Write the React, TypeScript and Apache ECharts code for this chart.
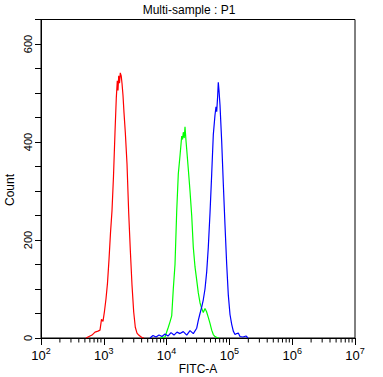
import React, { useEffect, useRef } from 'react';
import * as echarts from 'echarts';

const titleText = 'Multi-sample : P1';
const xAxisName = 'FITC-A';
const yAxisName = 'Count';

const redFITC = [521, 581, 649, 724, 808, 870, 919, 971, 1026, 1084, 1145, 1210, 1279, 1351, 1427, 1508, 1581, 1641, 1683, 1727, 1778, 1831, 1893, 1949, 2022, 2097, 2200, 2342, 2492, 2642, 2812, 2993, 3174, 3378, 3595, 3840, 4058, 4367];
const redCount = [0, 3, 6, 12, 14, 16, 38, 34, 55, 80, 112, 160, 215, 260, 330, 420, 490, 525, 505, 535, 520, 541, 535, 520, 495, 460, 420, 355, 255, 180, 108, 53, 22, 10, 6, 3, 1, 0];

const greenFITC = [7852, 9430, 10643, 11328, 12058, 12783, 13608, 14483, 15357, 16345, 17398, 17918, 18451, 19073, 19640, 20374, 20905, 22156, 23587, 25102, 26619, 28336, 30162, 31977, 34024, 36218, 38403, 40860, 43181, 46132, 49112, 52270, 55428, 58968, 63472, 68312];
const greenCount = [0, 2, 22, 33, 45, 100, 150, 258, 335, 372, 412, 405, 420, 408, 431, 402, 385, 345, 300, 250, 185, 145, 118, 92, 72, 60, 52, 60, 54, 42, 30, 16, 7, 3, 1, 0];

const blueFITC = [5441, 6073, 6780, 7568, 8450, 9430, 10527, 11752, 13117, 14641, 16345, 18451, 20905, 23587, 26619, 30162, 31977, 34024, 36218, 38403, 40860, 43492, 46132, 49112, 52270, 55428, 58968, 61170, 62771, 65113, 66560, 68312, 70870, 75430, 79980, 85110, 90580, 96050, 102230, 108800, 115380, 122800, 130680, 138580, 147500, 164700, 183800, 197800];
const blueCount = [0, 5, 2, 6, 3, 8, 4, 11, 6, 12, 9, 13, 6, 15, 9, 20, 36, 50, 63, 78, 100, 135, 185, 255, 335, 415, 455, 472, 462, 495, 522, 505, 475, 400, 315, 230, 150, 88, 48, 28, 14, 7, 9, 10, 3, 2, 4, 0];

const xMin = 100;
const xMax = 10000000;
const yMin = 0;
const yMax = 650;
const yTickInterval = 50;
const yLabelEvery = 200;

function pairs(xs: number[], ys: number[]) {
  return xs.map((x, i) => [x, ys[i]]);
}

function minorTicks(): number[][] {
  const out: number[][] = [];
  for (let d = xMin; d < xMax; d *= 10) {
    for (let m = 2; m <= 9; m++) out.push([d * m, 0]);
  }
  return out;
}

export default function App() {
  const ref = useRef<HTMLDivElement>(null);
  useEffect(() => {
    if (!ref.current) return;
    const chart = echarts.init(ref.current, null, { renderer: 'svg' });
    const font = 'Liberation Sans, Arial, sans-serif';
    const lineSeries = (name: string, color: string, data: number[][]) => ({
      name,
      type: 'line',
      data,
      showSymbol: false,
      symbol: 'none',
      lineStyle: { color, width: 1.2 },
      itemStyle: { color },
      silent: true,
      z: 3,
    });
    chart.setOption({
      animation: false,
      backgroundColor: '#ffffff',
      textStyle: { fontFamily: font },
      grid: {
        left: 41,
        right: 28,
        top: 19.5,
        bottom: 39,
        containLabel: false,
        outerBoundsMode: 'none',
        show: true,
        borderColor: '#000',
        borderWidth: 1,
        backgroundColor: 'transparent',
      },
      xAxis: {
        type: 'log',
        logBase: 10,
        min: xMin,
        max: xMax,
        axisLine: { show: true, lineStyle: { color: '#000', width: 1 } },
        axisTick: { show: true, length: 7, inside: false, lineStyle: { color: '#000' } },
        splitLine: { show: false },
        axisLabel: {
          margin: 8,
          color: '#000',
          fontFamily: font,
          formatter: (v: number) => {
            const e = Math.round(Math.log10(v));
            return '{b|10}{s|' + e + '}';
          },
          rich: {
            b: { fontSize: 13, color: '#000', fontFamily: font, lineHeight: 16, verticalAlign: 'bottom' },
            s: { fontSize: 9, color: '#000', fontFamily: font, lineHeight: 16, verticalAlign: 'top', padding: [0, 0, 6, 0] },
          },
        },
      },
      yAxis: {
        type: 'value',
        min: yMin,
        max: yMax,
        interval: yTickInterval,
        axisLine: { show: true, lineStyle: { color: '#000', width: 1 } },
        axisTick: { show: true, length: 6, lineStyle: { color: '#000' } },
        splitLine: { show: false },
        axisLabel: {
          rotate: 90,
          margin: 8,
          color: '#000',
          fontSize: 11,
          fontFamily: font,
          showMaxLabel: true,
          formatter: (v: number) => (v % yLabelEvery === 0 ? String(v) : ''),
        },
      },
      graphic: [
        {
          type: 'text',
          x: 189,
          y: 10,
          style: {
            text: titleText,
            fill: '#000',
            font: '12px ' + font,
            textAlign: 'center',
            textVerticalAlign: 'middle',
          },
        },
        {
          type: 'text',
          x: 198,
          y: 369,
          style: {
            text: xAxisName,
            fill: '#000',
            font: '12px ' + font,
            textAlign: 'center',
            textVerticalAlign: 'middle',
          },
        },
        {
          type: 'text',
          x: 10,
          y: 190,
          rotation: Math.PI / 2,
          style: {
            text: yAxisName,
            fill: '#000',
            font: '12px ' + font,
            textAlign: 'center',
            textVerticalAlign: 'middle',
          },
        },
      ],
      series: [
        lineSeries('red', '#ff0000', pairs(redFITC, redCount)),
        lineSeries('green', '#00ff00', pairs(greenFITC, greenCount)),
        lineSeries('blue', '#0000ff', pairs(blueFITC, blueCount)),
        {
          type: 'custom',
          coordinateSystem: 'cartesian2d',
          clip: false,
          silent: true,
          data: minorTicks(),
          renderItem: (_params: any, api: any) => {
            const p = api.coord([api.value(0), 0]);
            return {
              type: 'line',
              shape: { x1: p[0], y1: p[1], x2: p[0], y2: p[1] + 4.5 },
              style: { stroke: '#000', lineWidth: 1 },
            };
          },
          z: 1,
        },
      ],
    });
    return () => chart.dispose();
  }, []);
  return (
    <div
      ref={ref}
      style={{ position: 'fixed', left: 0, top: 0, width: 383, height: 377, background: '#fff' }}
    />
  );
}
